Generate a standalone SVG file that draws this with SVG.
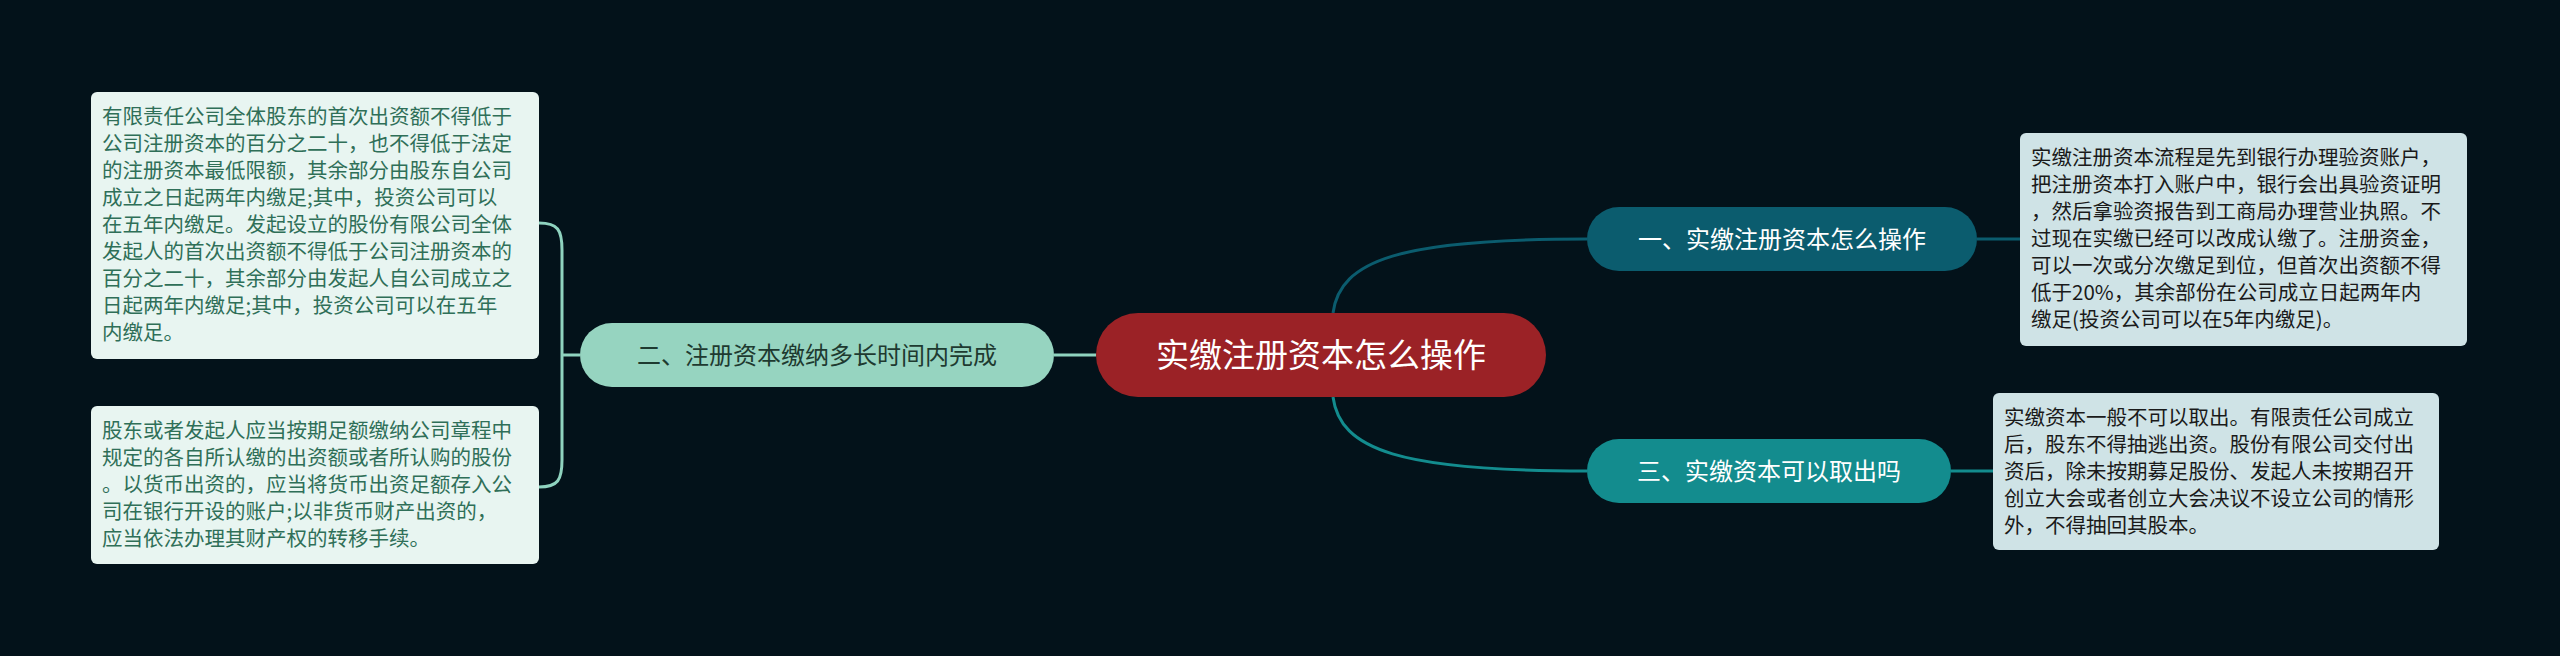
<svg xmlns="http://www.w3.org/2000/svg" width="2560" height="656" viewBox="0 0 2560 656">
<style>
text{font-family:"Noto Sans CJK SC","Noto Sans",sans-serif}
.lt{font-size:20.5px;fill:#2f6f58}
.rt{font-size:20.5px;fill:#1a1a1a}
.c{fill:none;stroke-width:3}
</style>
<rect width="2560" height="656" fill="#03121a"/>
<g id="connectors">
<path class="c" stroke="#8fd3bf" d="M1096 355H1054"/>
<path class="c" stroke="#8fd3bf" d="M580 355H562M539 223C558 223 562 230 562 250V460C562 480 558 487 539 487"/>
<path class="c" stroke="#0b5c6e" d="M1333 313C1340 260 1400 239 1587 239M1977 239H2020"/>
<path class="c" stroke="#138c8e" d="M1333 397C1340 450 1400 471 1587 471M1951 471H1993"/>
</g>
<g id="root"><rect x="1096" y="313" width="450" height="84" rx="42" fill="#9b2226"/><text x="1321" y="367" text-anchor="middle" font-size="33" fill="#fff">实缴注册资本怎么操作</text></g>
<g id="n2"><rect x="580" y="323" width="474" height="64" rx="32" fill="#96d4c0"/><text x="817" y="364" text-anchor="middle" font-size="24" fill="#1e3a30">二、注册资本缴纳多长时间内完成</text></g>
<g id="n1"><rect x="1587" y="207" width="390" height="64" rx="32" fill="#0b5c6e"/><text x="1782" y="248" text-anchor="middle" font-size="24" fill="#fff">一、实缴注册资本怎么操作</text></g>
<g id="n3"><rect x="1587" y="439" width="364" height="64" rx="32" fill="#138c8e"/><text x="1769" y="480" text-anchor="middle" font-size="24" fill="#fff">三、实缴资本可以取出吗</text></g>
<g id="l1"><rect x="91" y="92" width="448" height="267" rx="6" fill="#e8f5f1"/>
<text class="lt"><tspan x="102" y="124">有限责任公司全体股东的首次出资额不得低于</tspan><tspan x="102" y="151">公司注册资本的百分之二十，也不得低于法定</tspan><tspan x="102" y="178">的注册资本最低限额，其余部分由股东自公司</tspan><tspan x="102" y="205">成立之日起两年内缴足;其中，投资公司可以</tspan><tspan x="102" y="232">在五年内缴足。发起设立的股份有限公司全体</tspan><tspan x="102" y="259">发起人的首次出资额不得低于公司注册资本的</tspan><tspan x="102" y="286">百分之二十，其余部分由发起人自公司成立之</tspan><tspan x="102" y="313">日起两年内缴足;其中，投资公司可以在五年</tspan><tspan x="102" y="340">内缴足。</tspan></text></g>
<g id="l2"><rect x="91" y="406" width="448" height="158" rx="6" fill="#e8f5f1"/>
<text class="lt"><tspan x="102" y="438">股东或者发起人应当按期足额缴纳公司章程中</tspan><tspan x="102" y="465">规定的各自所认缴的出资额或者所认购的股份</tspan><tspan x="102" y="492">。以货币出资的，应当将货币出资足额存入公</tspan><tspan x="102" y="519">司在银行开设的账户;以非货币财产出资的，</tspan><tspan x="102" y="546">应当依法办理其财产权的转移手续。</tspan></text></g>
<g id="r1"><rect x="2020" y="133" width="447" height="213" rx="6" fill="#cfe3e6"/>
<text class="rt"><tspan x="2031" y="165">实缴注册资本流程是先到银行办理验资账户，</tspan><tspan x="2031" y="192">把注册资本打入账户中，银行会出具验资证明</tspan><tspan x="2031" y="219">，然后拿验资报告到工商局办理营业执照。不</tspan><tspan x="2031" y="246">过现在实缴已经可以改成认缴了。注册资金，</tspan><tspan x="2031" y="273">可以一次或分次缴足到位，但首次出资额不得</tspan><tspan x="2031" y="300">低于20%，其余部份在公司成立日起两年内</tspan><tspan x="2031" y="327">缴足(投资公司可以在5年内缴足)。</tspan></text></g>
<g id="r2"><rect x="1993" y="393" width="446" height="157" rx="6" fill="#cfe3e6"/>
<text class="rt"><tspan x="2004" y="425">实缴资本一般不可以取出。有限责任公司成立</tspan><tspan x="2004" y="452">后，股东不得抽逃出资。股份有限公司交付出</tspan><tspan x="2004" y="479">资后，除未按期募足股份、发起人未按期召开</tspan><tspan x="2004" y="506">创立大会或者创立大会决议不设立公司的情形</tspan><tspan x="2004" y="533">外，不得抽回其股本。</tspan></text></g>
</svg>
